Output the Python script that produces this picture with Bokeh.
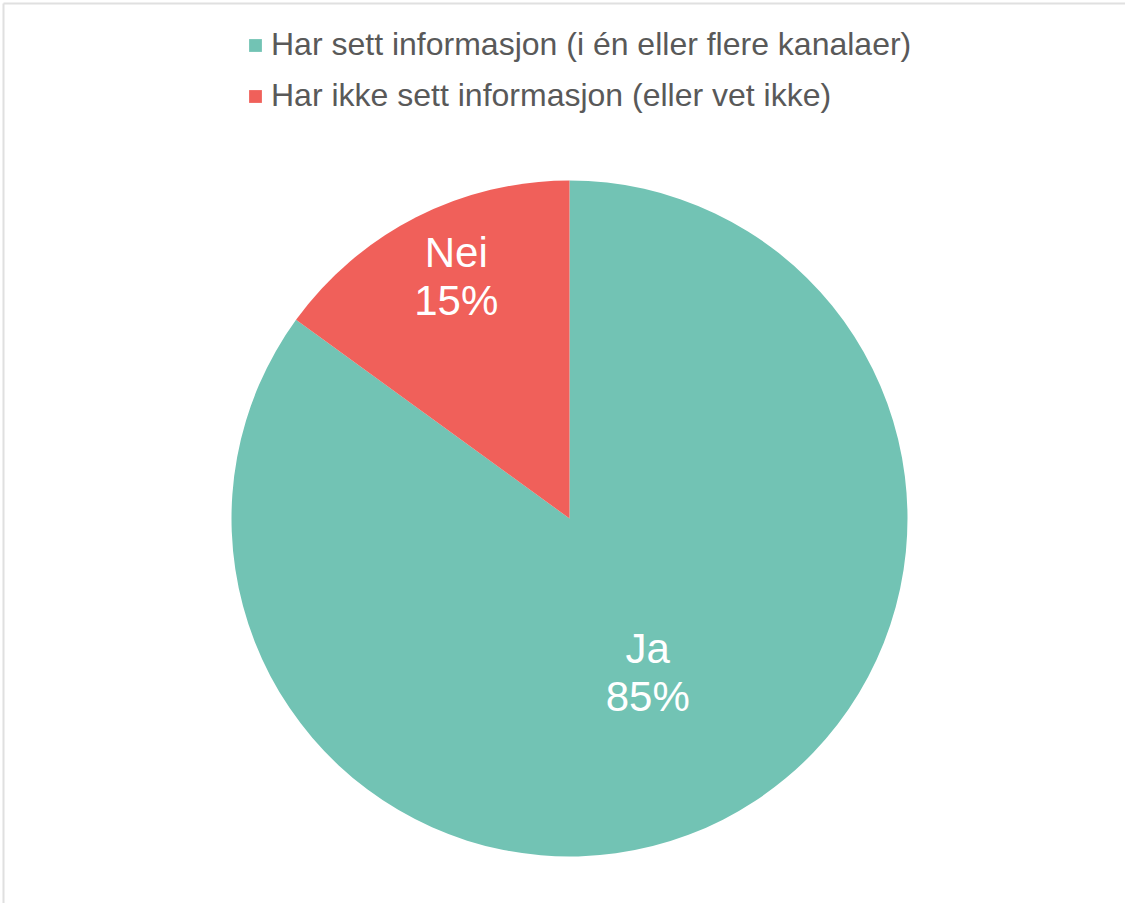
import math
from bokeh.plotting import figure
from bokeh.models import Range1d, ColumnDataSource, Legend, LegendItem
from bokeh.core.properties import value
from bokeh.embed import file_html
from bokeh.resources import INLINE

# ---- data ----
categories = ["Har sett informasjon (i én eller flere kanalaer)",
              "Har ikke sett informasjon (eller vet ikke)"]
short_labels = ["Ja", "Nei"]
percents = [85, 15]
colors = ["#72C3B4", "#F0605A"]

# ---- layout constants ----
W, H = 1125, 903
CX, CY, R = 569, 385, 338
label_frac = [0.51, 0.79]
label_nudge = [(0, 0), (8, 4)]
FONT = "Liberation Sans"

total = sum(percents)
starts, ends, mids = [], [], []
cum = 0.0
for v in percents:
    a0 = math.pi / 2 - 2 * math.pi * (cum + v) / total
    a1 = math.pi / 2 - 2 * math.pi * cum / total
    starts.append(a0)
    ends.append(a1)
    mids.append((a0 + a1) / 2)
    cum += v

lx = [CX + f * R * math.cos(m) + n[0] for f, m, n in zip(label_frac, mids, label_nudge)]
ly = [CY + f * R * math.sin(m) + n[1] for f, m, n in zip(label_frac, mids, label_nudge)]

src = ColumnDataSource(dict(
    cat=categories, short=short_labels,
    pct=[f"{v}%" for v in percents], color=colors,
    start=starts, end=ends, lx=lx, ly=ly,
))

p = figure(width=W, height=H, output_backend="svg", toolbar_location=None,
           x_range=Range1d(0, W), y_range=Range1d(0, H),
           min_border=0, background_fill_color="white",
           border_fill_color="white")
p.axis.visible = False
p.grid.visible = False
p.outline_line_color = None

# chart border (decoration)
p.segment(x0=[3, 3], y0=[0, 900], x1=[3, W], y1=[900, 900],
          line_color="#e0e0e0", line_width=2)

r = p.wedge(x=CX, y=CY, radius=R, start_angle="start", end_angle="end",
            direction="anticlock", fill_color="color", line_color=None,
            source=src)

p.text(x="lx", y="ly", text="short", source=src, text_color="white",
       text_font=value(FONT), text_font_size="42px", text_align="center",
       text_baseline="middle", y_offset=-24)
p.text(x="lx", y="ly", text="pct", source=src, text_color="white",
       text_font=value(FONT), text_font_size="42px", text_align="center",
       text_baseline="middle", y_offset=24)

items = [LegendItem(label=c, renderers=[r], index=i) for i, c in enumerate(categories)]
legend = Legend(items=items, location=(247, 789), orientation="vertical",
                padding=0, margin=0, spacing=14, glyph_width=16, glyph_height=16,
                label_standoff=8, label_height=36,
                label_text_font=FONT, label_text_font_size="32px",
                label_text_color="#595959", border_line_color=None,
                background_fill_alpha=0)
p.add_layout(legend, "center")

open("out.html", "w").write(file_html(p, INLINE))
